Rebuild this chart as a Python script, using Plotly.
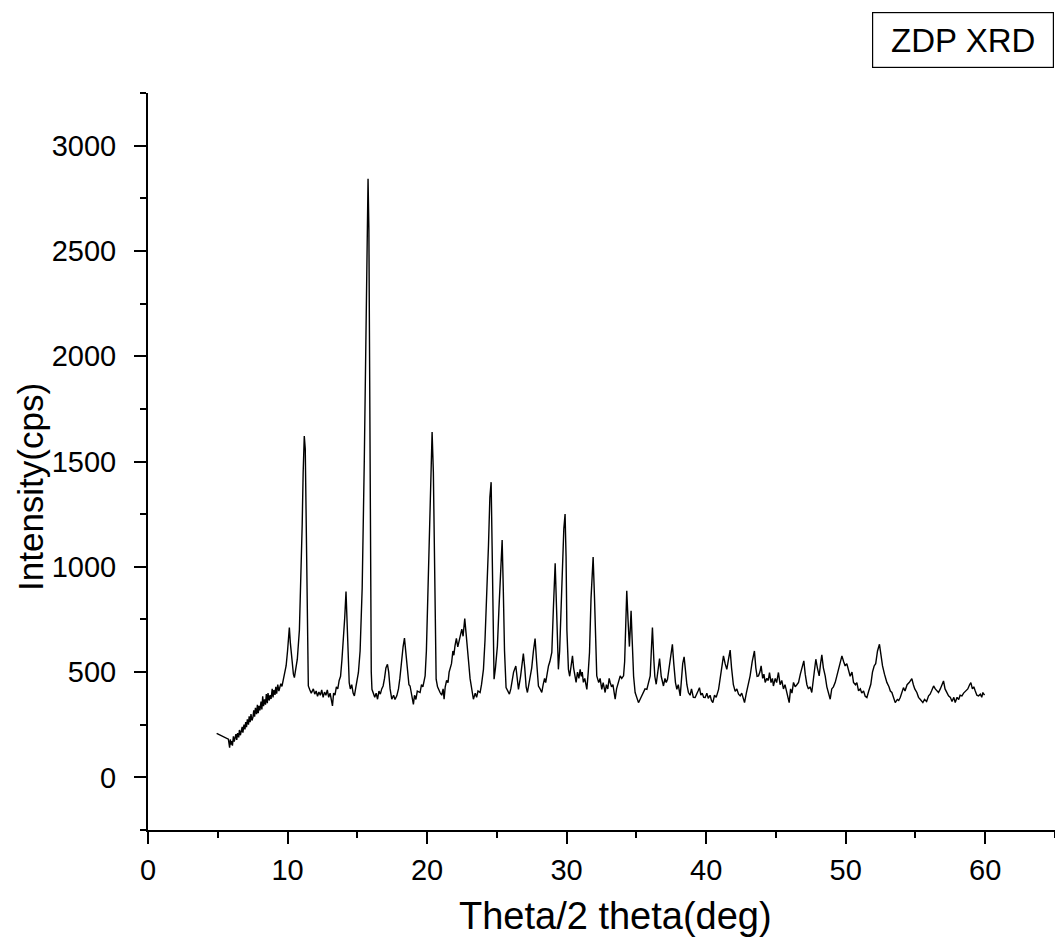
import plotly.graph_objects as go

# 2-theta (deg)
two_theta = [
    4.92, 5.5, 5.76,
    5.85, 5.9, 5.95, 6.0, 6.05, 6.12, 6.18, 6.25, 6.3, 6.36,
    6.42, 6.5, 6.55, 6.62, 6.68, 6.75, 6.8, 6.88, 6.95, 7.0,
    7.06, 7.12, 7.2, 7.25, 7.32, 7.38, 7.45, 7.52, 7.58, 7.64,
    7.7, 7.78, 7.84, 7.9, 7.96, 8.02, 8.1, 8.16, 8.22, 8.28,
    8.35, 8.42, 8.48, 8.55, 8.6, 8.68, 8.75, 8.82, 8.9, 8.96,
    9.02, 9.1, 9.16, 9.22, 9.3, 9.38, 9.45, 9.52, 9.6, 9.68,
    9.75, 9.82, 9.9, 10.0,
    10.13, 10.2, 10.3, 10.42, 10.49, 10.6, 10.7, 10.85, 10.95, 11.05, 11.12, 11.2, 11.27, 11.33,
    11.38, 11.43, 11.49, 11.6, 11.7, 11.85, 11.95, 12.05, 12.15, 12.25, 12.35, 12.45, 12.55, 12.65, 12.75, 12.85, 12.95, 13.05, 13.15, 13.22,
    13.3, 13.4, 13.5, 13.6, 13.7, 13.8, 13.9, 14.0, 14.1, 14.19, 14.27, 14.35, 14.42, 14.5, 14.6, 14.7, 14.79, 14.9, 15.0, 15.08,
    15.2, 15.35, 15.5, 15.62, 15.72, 15.77, 15.83, 15.9, 15.95, 16.0, 16.05, 16.15, 16.25, 16.35, 16.45, 16.55, 16.65, 16.75, 16.85, 16.95,
    17.05, 17.16, 17.25, 17.35, 17.47, 17.6, 17.7, 17.83, 17.95, 18.05, 18.15, 18.28, 18.38, 18.48, 18.6, 18.7, 18.78, 18.9, 19.02, 19.1,
    19.2, 19.3, 19.38, 19.5, 19.6, 19.7, 19.86, 19.95, 20.05, 20.15, 20.25, 20.36, 20.45, 20.52, 20.58, 20.65, 20.75, 20.85, 20.93, 21.05,
    21.15, 21.22, 21.3, 21.4, 21.5, 21.58, 21.65, 21.75, 21.85, 21.92, 22.0, 22.1, 22.2, 22.32, 22.4, 22.49, 22.58, 22.7, 22.8, 22.88,
    22.96, 23.08, 23.2, 23.32, 23.45, 23.55, 23.65, 23.8, 23.9, 24.04, 24.15, 24.28, 24.4, 24.5, 24.59, 24.66, 24.72, 24.8, 24.9, 25.04,
    25.15, 25.27, 25.38, 25.46, 25.55, 25.66, 25.78, 25.9, 26.0, 26.1, 26.2, 26.36, 26.45, 26.55, 26.7, 26.8, 26.9, 27.0, 27.1, 27.19,
    27.3, 27.4, 27.5, 27.62, 27.74, 27.85, 27.98, 28.1, 28.22, 28.32, 28.42, 28.5, 28.6, 28.7, 28.8, 28.94, 29.05, 29.18, 29.28, 29.35,
    29.41, 29.5, 29.6, 29.7, 29.8, 29.89, 29.96, 30.02, 30.08, 30.13, 30.22, 30.32, 30.42, 30.5, 30.6, 30.68, 30.78, 30.88, 30.97, 31.05,
    31.12, 31.2, 31.3, 31.45, 31.55, 31.64, 31.75, 31.9, 32.0, 32.08, 32.16, 32.3, 32.4, 32.52, 32.62, 32.76, 32.85, 32.95, 33.05, 33.12,
    33.22, 33.32, 33.48, 33.58, 33.7, 33.84, 33.95, 34.08, 34.16, 34.22, 34.31, 34.4, 34.5, 34.56, 34.62, 34.7, 34.8, 34.91, 35.0, 35.15,
    35.27, 35.4, 35.5, 35.62, 35.75, 35.88, 35.99, 36.07, 36.15, 36.25, 36.32, 36.42, 36.52, 36.66, 36.78, 36.94, 37.05, 37.14, 37.23, 37.35,
    37.48, 37.58, 37.68, 37.8, 37.9, 38.0, 38.14, 38.25, 38.32, 38.42, 38.52, 38.62, 38.73, 38.85, 38.95, 39.08, 39.21, 39.32, 39.42, 39.52,
    39.62, 39.72, 39.82, 39.93, 40.05, 40.15, 40.28, 40.38, 40.48, 40.6, 40.72, 40.89, 41.0, 41.12, 41.24, 41.36, 41.48, 41.6, 41.72, 41.82,
    41.95, 42.08, 42.2, 42.32, 42.44, 42.55, 42.65, 42.75, 42.88, 43.0, 43.15, 43.3, 43.46, 43.56, 43.65, 43.75, 43.85, 43.94, 44.05, 44.14,
    44.23, 44.35, 44.45, 44.54, 44.65, 44.75, 44.82, 44.95, 45.05, 45.18, 45.3, 45.42, 45.54, 45.65, 45.8, 45.95, 46.05, 46.15, 46.26, 46.38,
    46.5, 46.62, 46.75, 46.88, 47.0, 47.1, 47.22, 47.33, 47.45, 47.57, 47.7, 47.86, 47.97, 48.1, 48.2, 48.29, 48.4, 48.53, 48.65, 48.78,
    48.89, 49.0, 49.12, 49.25, 49.4, 49.55, 49.73, 49.85, 49.96, 50.08, 50.2, 50.32, 50.45, 50.56, 50.7, 50.8, 50.92, 51.05, 51.15, 51.28,
    51.4, 51.52, 51.65, 51.8, 51.92, 52.04, 52.15, 52.28, 52.42, 52.52, 52.64, 52.78, 52.95, 53.1, 53.2, 53.31, 53.42, 53.55, 53.7, 53.8,
    53.91, 54.02, 54.14, 54.25, 54.4, 54.55, 54.74, 54.85, 54.95, 55.1, 55.22, 55.35, 55.53, 55.65, 55.8, 55.94, 56.05, 56.15, 56.3, 56.42,
    56.52, 56.65, 56.78, 56.9, 57.01, 57.12, 57.25, 57.37, 57.5, 57.62, 57.75, 57.85, 57.98, 58.1, 58.2, 58.33, 58.45, 58.6, 58.75, 58.88,
    58.97, 59.08, 59.18, 59.28, 59.4, 59.52, 59.65, 59.75, 59.83, 59.95,
]

# Intensity (cps)
intensity = [
    209, 190, 181,
    141, 180, 155, 172, 150, 195, 170, 185, 205, 178,
    210, 190, 225, 200, 215, 240, 212, 250, 228, 262,
    238, 275, 250, 290, 262, 300, 270, 285, 318, 288,
    330, 300, 345, 305, 340, 318, 360, 322, 385, 338,
    370, 345, 395, 352, 400, 365, 390, 372, 420, 380,
    415, 392, 430, 398, 440, 410, 428, 445, 432, 462,
    470, 495, 530, 600,
    712, 640, 560, 490, 474, 520, 561, 700, 900, 1200, 1450, 1621, 1560, 1200,
    800, 550, 434, 415, 400, 420, 395, 410, 385, 405, 390, 415, 380, 405, 390, 415, 380, 400, 360, 339,
    400, 390, 430, 420, 460, 480, 560, 650, 760, 883, 750, 560, 450, 420, 440, 400, 387, 430, 470, 498,
    600, 900, 1500, 2200, 2750, 2843, 2600, 1700, 900, 500, 418, 400, 380, 400, 371, 410, 395, 420, 434, 470,
    520, 537, 500, 420, 371, 390, 370, 387, 420, 470, 540, 620, 661, 580, 480, 440, 434, 380, 347, 390,
    370, 410, 408, 403, 440, 430, 482, 600, 850, 1150, 1450, 1640, 1450, 1000, 650, 466, 430, 410, 403, 390,
    420, 371, 430, 460, 450, 500, 513, 540, 600, 580, 624, 660, 620, 656, 690, 704, 670, 754, 680, 600,
    561, 470, 418, 371, 400, 380, 410, 403, 440, 513, 650, 846, 1100, 1330, 1402, 1100, 700, 466, 520, 624,
    800, 1000, 1127, 900, 600, 426, 410, 395, 420, 460, 500, 529, 460, 418, 480, 550, 588, 520, 430, 403,
    440, 480, 520, 600, 659, 550, 434, 420, 403, 440, 470, 450, 500, 529, 550, 593, 800, 1017, 800, 600,
    513, 600, 800, 1000, 1180, 1250, 1050, 700, 561, 513, 480, 530, 577, 520, 480, 451, 500, 470, 513, 480,
    500, 451, 470, 418, 500, 593, 850, 1046, 850, 600, 482, 450, 470, 418, 450, 403, 440, 420, 470, 451,
    430, 440, 371, 420, 450, 482, 470, 482, 550, 700, 886, 750, 621, 700, 791, 650, 480, 403, 380, 355,
    371, 390, 400, 420, 418, 450, 482, 600, 712, 560, 480, 442, 500, 564, 480, 434, 470, 450, 466, 520,
    600, 632, 540, 450, 418, 440, 387, 470, 540, 572, 500, 440, 403, 390, 420, 380, 379, 400, 410, 426,
    390, 400, 380, 379, 400, 375, 390, 365, 355, 390, 380, 418, 470, 520, 577, 540, 513, 560, 604, 520,
    440, 408, 420, 395, 387, 400, 370, 355, 400, 440, 482, 550, 600, 520, 480, 482, 500, 529, 470, 490,
    451, 470, 460, 498, 450, 470, 434, 470, 450, 498, 440, 460, 420, 440, 400, 355, 420, 400, 451, 430,
    440, 451, 490, 520, 553, 490, 440, 420, 430, 403, 480, 561, 520, 482, 540, 582, 520, 482, 430, 400,
    371, 420, 430, 451, 490, 540, 577, 550, 529, 540, 513, 480, 500, 451, 440, 450, 411, 420, 400, 410,
    385, 379, 410, 442, 500, 529, 540, 600, 632, 580, 529, 490, 451, 430, 410, 403, 380, 355, 370, 365,
    379, 400, 426, 410, 440, 450, 469, 440, 420, 403, 380, 370, 355, 370, 360, 387, 395, 410, 434, 420,
    410, 403, 420, 440, 458, 420, 400, 387, 380, 360, 380, 355, 380, 370, 390, 387, 400, 410, 420, 440,
    450, 420, 430, 411, 390, 387, 395, 380, 403, 390,
]

x_ticks = [0, 10, 20, 30, 40, 50, 60]
y_ticks = [0, 500, 1000, 1500, 2000, 2500, 3000]
series_name = "ZDP XRD"
x_title = "Theta/2 theta(deg)"
y_title = "Intensity(cps)"

FONT = "Arial, Liberation Sans, sans-serif"

# plot area in page pixels (body margin removed below)
W, H = 1055, 941
PLOT_L, PLOT_R, PLOT_T, PLOT_B = 148, 1055, 93, 830
PW, PH = PLOT_R - PLOT_L, PLOT_B - PLOT_T


def px(xp):
    return (xp - PLOT_L) / PW


def py(yp):
    return (PLOT_B - yp) / PH


fig = go.Figure()
fig.add_trace(go.Scatter(
    x=two_theta, y=intensity, mode="lines",
    line=dict(color="black", width=1.4),
    name=series_name, showlegend=False,
))

axis_common = dict(
    showgrid=False, zeroline=False, showline=True, linecolor="black", linewidth=2,
    ticks="outside", ticklen=12, tickwidth=2, tickcolor="black",
    tickfont=dict(family=FONT, size=29, color="black"),
    mirror=False,
)

fig.update_xaxes(
    range=[0, 65], tickvals=x_ticks, ticktext=[str(v) for v in x_ticks],
    minor=dict(tickvals=[5, 15, 25, 35, 45, 55, 65], ticklen=6, tickwidth=2, tickcolor="black", ticks="outside"),
    ticklabelstandoff=1,
    **axis_common,
)
fig.update_yaxes(
    range=[-250, 3250], tickvals=y_ticks, ticktext=[str(v) for v in y_ticks],
    minor=dict(tickvals=[-250, 250, 750, 1250, 1750, 2250, 2750, 3250], ticklen=6, tickwidth=2, tickcolor="black", ticks="outside"),
    ticklabelstandoff=12,
    **axis_common,
)

# axis titles
fig.add_annotation(
    xref="paper", yref="paper", x=px(615), y=py(916), xanchor="center", yanchor="middle",
    text=x_title, showarrow=False, font=dict(family=FONT, size=38, color="black"),
)
fig.add_annotation(
    xref="paper", yref="paper", x=px(30), y=py(487), xanchor="center", yanchor="middle",
    text=y_title, textangle=-90, showarrow=False, font=dict(family=FONT, size=35, color="black"),
)

# legend-style box
fig.add_annotation(
    xref="paper", yref="paper", x=1, y=py(12), xanchor="right", yanchor="top",
    xshift=-1, text=series_name, showarrow=False,
    font=dict(family=FONT, size=33, color="black"),
    bordercolor="black", borderwidth=1.2, borderpad=2,
    width=176, height=50, bgcolor="white", align="center",
)

fig.update_layout(
    width=W, height=H,
    margin=dict(l=PLOT_L, r=W - PLOT_R, t=PLOT_T, b=H - PLOT_B),
    paper_bgcolor="white", plot_bgcolor="white",
    showlegend=False,
)

fig.write_html(
    "out.html",
    config={"displayModeBar": False},
    post_script="document.body.style.margin='0';document.body.style.overflow='hidden';",
)
